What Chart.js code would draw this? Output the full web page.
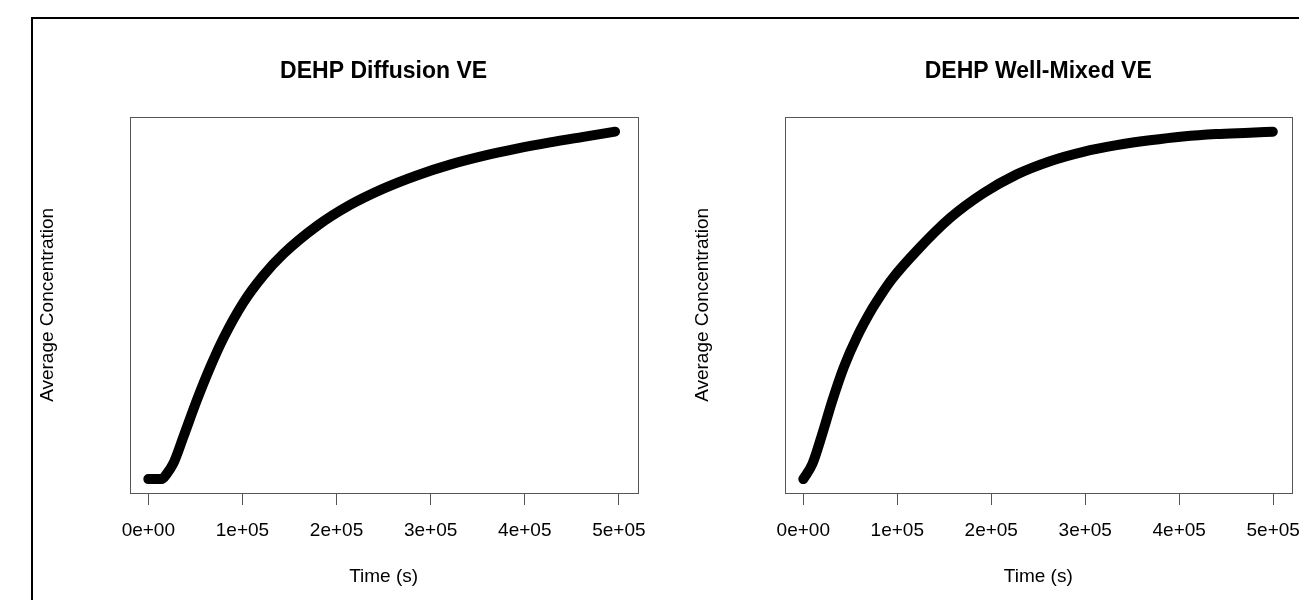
<!DOCTYPE html>
<html>
<head>
<meta charset="utf-8">
<script src="https://cdn.jsdelivr.net/npm/chart.js@4"></script>
<style>
  html, body { margin: 0; padding: 0; background: #fff; overflow: hidden; }
  body { width: 1299px; height: 600px; position: relative; }
  .panel { position: absolute; top: 0; width: 700px; height: 600px; }
  #frame { position: absolute; left: 31px; top: 17px; width: 1400px; height: 700px;
           border-top: 2px solid #000; border-left: 2px solid #000; pointer-events: none; z-index: 5; }
</style>
</head>
<body>
<div id="frame"></div>
<div class="panel" style="left:0;"><canvas id="diffusionChart"></canvas></div>
<div class="panel" style="left:655px;"><canvas id="mixedChart"></canvas></div>
<script>
// tick positions and labels on the time axis
const xTicks = [0, 100000, 200000, 300000, 400000, 500000];
const xTickLabels = ['0e+00', '1e+05', '2e+05', '3e+05', '4e+05', '5e+05'];

// DEHP Diffusion VE (concentration scaled 0..1, the original has no y ticks)
const diffusionTime = [0, 14240, 19550, 26570, 37190, 51430, 65570, 79700, 100960, 122210, 143460,
                       178960, 214350, 249730, 285230, 320620, 356000, 391500, 426890, 462270, 495960];
const diffusionConc = [0, 0, 0.015, 0.045, 0.121, 0.226, 0.321, 0.405, 0.508, 0.586, 0.648,
                       0.728, 0.789, 0.836, 0.874, 0.905, 0.930, 0.951, 0.969, 0.985, 1.000];

// DEHP Well-Mixed VE
const mixedTime = [0, 9550, 20170, 30790, 43100, 57320, 73250, 82060, 94480, 121020, 156370,
                   191720, 227180, 262530, 297880, 333330, 368680, 404030, 439490, 474840, 499580];
const mixedConc = [0, 0.043, 0.130, 0.225, 0.322, 0.410, 0.490, 0.528, 0.576, 0.658, 0.752,
                   0.823, 0.877, 0.915, 0.942, 0.961, 0.975, 0.986, 0.993, 0.997, 1.000];

const FONT = '"Liberation Sans", Arial, Helvetica, sans-serif';

// grey box round the plot region, and the bold title centred over it
const boxPlugin = {
    id: 'plotBox',
    afterDraw(chart, args, opts) {
        const a = chart.chartArea;
        const ctx = chart.ctx;
        ctx.save();
        ctx.strokeStyle = '#555';
        ctx.lineWidth = 1;
        const l = Math.round(a.left) + 0.5, t = Math.round(a.top) + 0.5;
        const r = Math.round(a.right) + 0.5, b = Math.round(a.bottom) + 0.5;
        ctx.strokeRect(l, t, r - l, b - t);

        ctx.fillStyle = '#000';
        ctx.font = 'bold 23px ' + FONT;
        ctx.textAlign = 'center';
        ctx.textBaseline = 'middle';
        ctx.fillText(opts.text, (a.left + a.right) / 2, 72);
        ctx.restore();
    }
};

function makeChart(canvasId, title, times, conc, rightPad) {
    const ctx = document.getElementById(canvasId).getContext('2d');
    const points = times.map((t, i) => ({ x: t, y: conc[i] }));
    return new Chart(ctx, {
        type: 'line',
        data: {
            datasets: [{
                data: points,
                borderColor: '#000',
                borderWidth: 10,
                borderCapStyle: 'round',
                borderJoinStyle: 'round',
                pointRadius: 0,
                cubicInterpolationMode: 'monotone',
                fill: false
            }]
        },
        options: {
            responsive: true,
            maintainAspectRatio: false,
            animation: false,
            layout: { padding: { left: 0, right: rightPad, top: 116.7, bottom: 0 } },
            plugins: {
                legend: { display: false },
                tooltip: { enabled: false },
                title: { display: false },
                plotBox: { text: title }
            },
            scales: {
                x: {
                    type: 'linear',
                    min: -20000,
                    max: 520000,
                    afterBuildTicks: scale => { scale.ticks = xTicks.map(v => ({ value: v })); },
                    afterFit: scale => { scale.height = 107; },
                    ticks: {
                        color: '#000',
                        padding: 14,
                        maxRotation: 0,
                        autoSkip: false,
                        font: { family: FONT, size: 19 },
                        callback: (v) => xTickLabels[xTicks.indexOf(v)]
                    },
                    grid: { drawOnChartArea: false, drawTicks: true, tickLength: 12, color: '#555' },
                    border: { display: false },
                    title: {
                        display: true,
                        text: 'Time (s)',
                        color: '#000',
                        font: { family: FONT, size: 19 },
                        padding: { top: 0, bottom: 12 }
                    }
                },
                y: {
                    min: -0.04,
                    max: 1.043,
                    ticks: { display: false },
                    grid: { display: false },
                    border: { display: false },
                    afterFit: scale => { scale.width = 129.5; },
                    title: {
                        display: true,
                        text: 'Average Concentration',
                        color: '#000',
                        font: { family: FONT, size: 19 },
                        padding: { top: 36, bottom: 0 }
                    }
                }
            }
        },
        plugins: [boxPlugin]
    });
}

makeChart('diffusionChart', 'DEHP Diffusion VE', diffusionTime, diffusionConc, 62.3);
makeChart('mixedChart', 'DEHP Well-Mixed VE', mixedTime, mixedConc, 63);
</script>
</body>
</html>
